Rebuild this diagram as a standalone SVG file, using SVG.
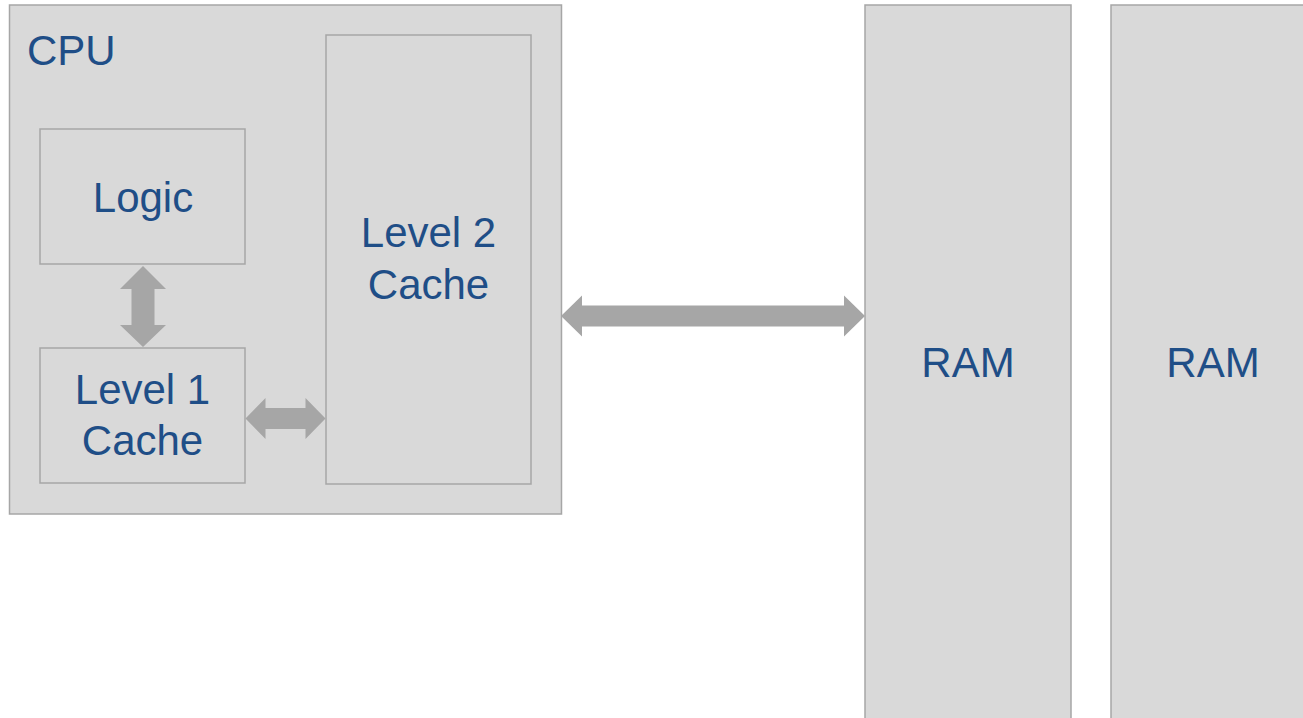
<svg xmlns="http://www.w3.org/2000/svg" width="1303" height="718" viewBox="0 0 1303 718">
<style>
.box{fill:#d9d9d9;stroke:#a6a6a6;stroke-width:1.5}
.t{font-family:"Liberation Sans",Arial,sans-serif;font-size:42px;fill:#1f4e87}
.m{text-anchor:middle}
.arr{fill:#a6a6a6}
</style>
<rect width="1303" height="718" fill="#ffffff"/>
<g id="cpu">
<rect class="box" x="9.5" y="5" width="552" height="509"/>
<text class="t" x="27" y="65">CPU</text>
</g>
<g id="logic">
<rect class="box" x="40" y="129" width="205" height="135"/>
<text class="t m" x="143" y="212">Logic</text>
</g>
<g id="l1">
<rect class="box" x="40" y="348" width="205" height="135"/>
<text class="t m" x="142.5" y="404">Level 1</text>
<text class="t m" x="142.5" y="455">Cache</text>
</g>
<g id="l2">
<rect class="box" x="326" y="35" width="205" height="449"/>
<text class="t m" x="428.5" y="247">Level 2</text>
<text class="t m" x="428.5" y="299">Cache</text>
</g>
<g id="ram1">
<rect class="box" x="865" y="5" width="206" height="730"/>
<text class="t m" x="968" y="377">RAM</text>
</g>
<g id="ram2">
<rect class="box" x="1111" y="5" width="206" height="730"/>
<text class="t m" x="1213" y="377">RAM</text>
</g>
<g id="connectors">
<polygon class="arr" points="143,266 166,289 154.5,289 154.5,325 166,325 143,347 120,325 131.5,325 131.5,289 120,289"/>
<polygon class="arr" points="245.5,418.5 265.5,398 265.5,408 305.5,408 305.5,398 325.5,418.5 305.5,439 305.5,429 265.5,429 265.5,439"/>
<polygon class="arr" points="561,316 582,295.5 582,305.5 844,305.5 844,295.5 865,316 844,336.5 844,326.5 582,326.5 582,336.5"/>
</g>
</svg>
